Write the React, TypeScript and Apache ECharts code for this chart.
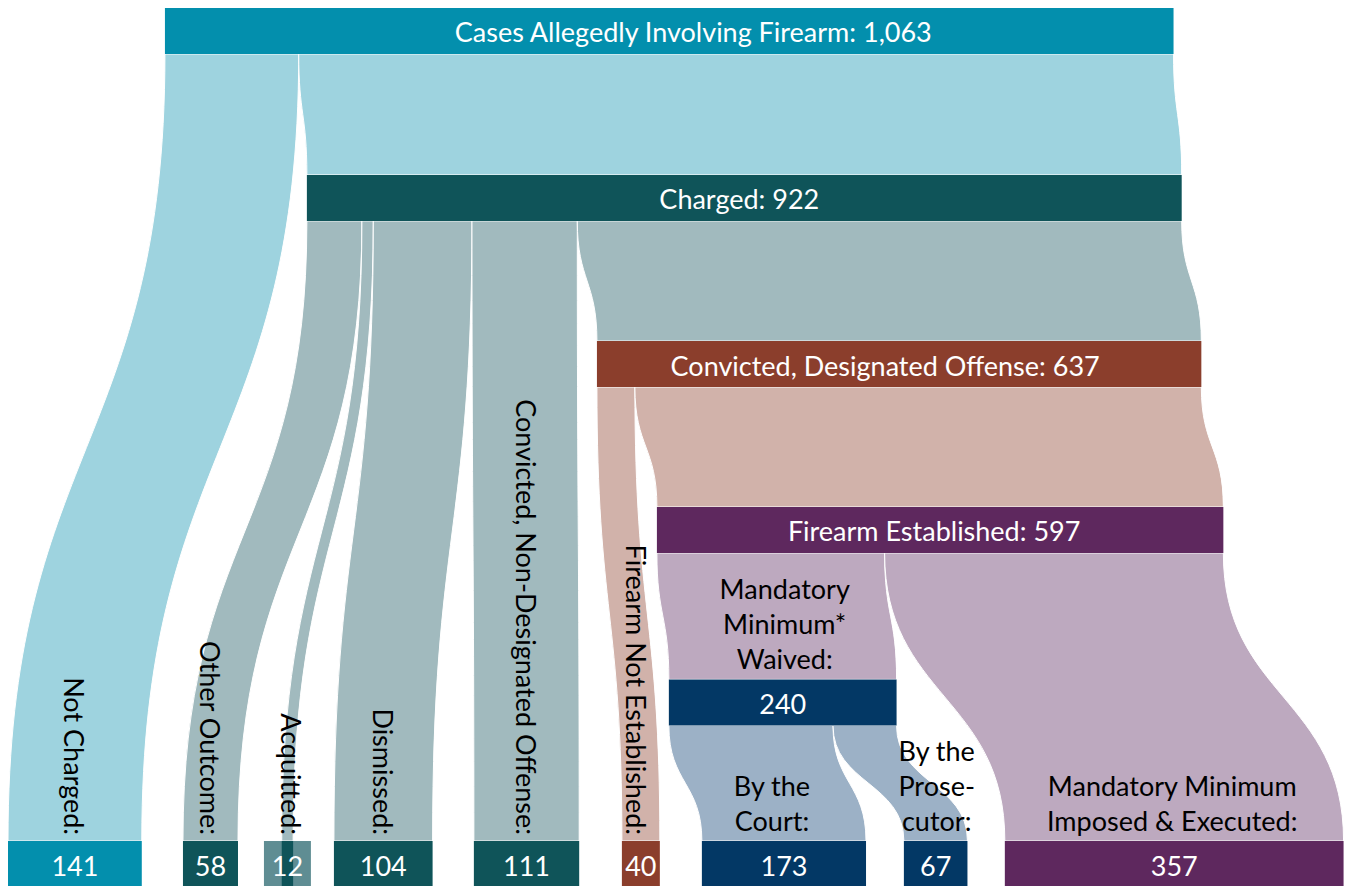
import React, { useEffect, useRef } from "react";
import * as echarts from "echarts";

// ---------- data ----------
const nodeNames = [
  "Cases Allegedly Involving Firearm",
  "Charged",
  "Convicted, Designated Offense",
  "Firearm Established",
  "Mandatory Minimum* Waived",
  "Not Charged",
  "Other Outcome",
  "Acquitted",
  "Dismissed",
  "Convicted, Non-Designated Offense",
  "Firearm Not Established",
  "By the Court",
  "By the Prosecutor",
  "Mandatory Minimum Imposed & Executed",
];
const nodeValues = [1063, 922, 637, 597, 240, 141, 58, 12, 104, 111, 40, 173, 67, 357];

const flowSources = [0, 0, 1, 1, 1, 1, 1, 2, 2, 3, 3, 4, 4];
const flowTargets = [5, 1, 6, 7, 8, 9, 2, 10, 3, 4, 13, 11, 12];
const flowValues = [141, 922, 58, 12, 104, 111, 637, 40, 597, 240, 357, 173, 67];

// captions written above the lower nodes (null = none)
const captionTexts: (string | null)[] = [
  null,
  null,
  null,
  null,
  "Mandatory\nMinimum*\nWaived:",
  "Not Charged:",
  "Other Outcome:",
  "Acquitted:",
  "Dismissed:",
  "Convicted, Non-Designated Offense:",
  "Firearm Not Established:",
  "By the\nCourt:",
  "By the\nProse-\ncutor:",
  "Mandatory Minimum\nImposed & Executed:",
];
const captionVertical = [false, false, false, false, false, true, true, true, true, true, true, false, false, false];

// ---------- layout (value units / level units) ----------
const nodeLevel = [0, 1, 2, 3, 4, 5, 5, 5, 5, 5, 5, 5, 5, 5];
const levelY = [0, 1.002, 1.999, 2.995, 4.03, 5.0];
const barH = 0.276;
const nodeX = [165.4, 315, 620.7, 683.9, 696.5, 0, 184.4, 288.5, 343.5, 491, 647, 731.3, 944.2, 1050.6];
const nodeMinWidth = [0, 0, 0, 0, 0, 0, 0, 49.5, 0, 0, 0, 0, 0, 0];
const labelDx = [24, -5, -14, -6, 0, 0, 0, 0, 0, 0, 0, 0, 0, 0];
const captionDx = [0, 0, 0, 0, 2, 0, 0, 4, 0, 0, -4, -12, 1, -2];

// ---------- styles ----------
const nodeColors = [
  "#038FAD", "#0F5459", "#8B3E2C", "#5E285E", "#033865",
  "#038FAD", "#0F5459", "#0F5459", "#0F5459", "#0F5459", "#8B3E2C", "#033865", "#033865", "#5E285E",
];
const padColors: Record<number, string> = { 7: "#5F8D93" };
const flowColors: Record<number, string> = {
  0: "#9ED3DF",
  1: "#A1BABE",
  2: "#D1B2AA",
  3: "#BDA9BF",
  4: "#9CB1C6",
};
const FONT = "Lato, 'Noto Sans', sans-serif";
const FS = 27;

// offsets of each flow within its source / target
const srcOffset: number[] = [];
const tgtOffset: number[] = [];
{
  const sAcc: Record<number, number> = {};
  const tAcc: Record<number, number> = {};
  flowValues.forEach((v, i) => {
    const s = flowSources[i];
    const t = flowTargets[i];
    srcOffset.push(sAcc[s] || 0);
    tgtOffset.push(tAcc[t] || 0);
    sAcc[s] = (sAcc[s] || 0) + v;
    tAcc[t] = (tAcc[t] || 0) + v;
  });
}

function fmt(n: number) {
  return n.toLocaleString("en-US");
}

const flowRender = (params: any, api: any) => {
  const i = params.dataIndex;
  const s = flowSources[i];
  const t = flowTargets[i];
  const v = flowValues[i];
  const sx = nodeX[s] + srcOffset[i];
  const tx = nodeX[t] + tgtOffset[i];
  const y0 = levelY[nodeLevel[s]] + barH;
  const y1 = levelY[nodeLevel[t]];
  const a = api.coord([sx, y0]);
  const b = api.coord([sx + v, y0]);
  const c = api.coord([tx, y1]);
  const d = api.coord([tx + v, y1]);
  const ym = (a[1] + c[1]) / 2;
  const p =
    `M${a[0]},${a[1]} C${a[0]},${ym} ${c[0]},${ym} ${c[0]},${c[1]} ` +
    `L${d[0]},${d[1]} C${d[0]},${ym} ${b[0]},${ym} ${b[0]},${b[1]} Z`;
  return {
    type: "path",
    shape: { pathData: p },
    style: { fill: flowColors[s], stroke: "#ffffff", lineWidth: 1 },
  };
};

const nodeRender = (params: any, api: any) => {
  const i = params.dataIndex;
  const v = nodeValues[i];
  const y = levelY[nodeLevel[i]];
  const tl = api.coord([nodeX[i], y]);
  const br = api.coord([nodeX[i] + v, y + barH]);
  const children: any[] = [];
  const cx = (tl[0] + br[0]) / 2;
  if (nodeMinWidth[i] > 0) {
    const c = nodeX[i] + v / 2;
    const ptl = api.coord([c - nodeMinWidth[i] / 2, y]);
    const pbr = api.coord([c + nodeMinWidth[i] / 2, y + barH]);
    children.push({
      type: "rect",
      shape: { x: ptl[0], y: ptl[1], width: pbr[0] - ptl[0], height: pbr[1] - ptl[1] },
      style: { fill: padColors[i] },
    });
  }
  children.push({
    type: "rect",
    shape: { x: tl[0], y: tl[1], width: br[0] - tl[0], height: br[1] - tl[1] },
    style: { fill: nodeColors[i] },
  });
  const label = nodeLevel[i] < 4 ? `${nodeNames[i]}: ${fmt(v)}` : fmt(v);
  children.push({
    type: "text",
    x: cx + labelDx[i],
    y: (tl[1] + br[1]) / 2 + 1,
    style: {
      text: label,
      fill: "#ffffff",
      fontSize: FS,
      fontFamily: FONT,
      align: "center",
      verticalAlign: "middle",
    },
  });
  const cap = captionTexts[i];
  if (cap) {
    if (captionVertical[i]) {
      children.push({
        type: "text",
        x: cx + captionDx[i],
        y: tl[1] - 6,
        rotation: -Math.PI / 2,
        style: {
          text: cap,
          fill: "#000000",
          fontSize: FS,
          fontFamily: FONT,
          align: "right",
          verticalAlign: "middle",
        },
      });
    } else {
      children.push({
        type: "text",
        x: cx + captionDx[i],
        y: tl[1] - 3,
        style: {
          text: cap,
          fill: "#000000",
          fontSize: FS,
          fontFamily: FONT,
          lineHeight: 35,
          align: "center",
          verticalAlign: "bottom",
        },
      });
    }
  }
  return { type: "group", children };
};

const option: any = {
  animation: false,
  backgroundColor: "#ffffff",
  grid: { left: 8, top: 8, width: 1335, height: 878 },
  xAxis: { type: "value", min: 0, max: 1407, show: false },
  yAxis: { type: "value", min: 0, max: 5.27, inverse: true, show: false },
  series: [
    {
      type: "custom",
      name: "flows",
      clip: false,
      renderItem: flowRender,
      data: flowValues.map((v, i) => [i, v]),
      encode: { x: 0, y: -1 },
    },
    {
      type: "custom",
      name: "nodes",
      clip: false,
      renderItem: nodeRender,
      data: nodeValues.map((v, i) => [i, v]),
      encode: { x: 0, y: -1 },
    },
  ],
};

export default function App() {
  const ref = useRef<HTMLDivElement>(null);
  useEffect(() => {
    if (!ref.current) return;
    const chart = echarts.init(ref.current, null, { renderer: "svg" });
    chart.setOption(option);
    return () => chart.dispose();
  }, []);
  return (
    <div
      ref={ref}
      style={{ position: "fixed", left: 0, top: 0, width: 1351, height: 886, background: "#fff" }}
    />
  );
}
